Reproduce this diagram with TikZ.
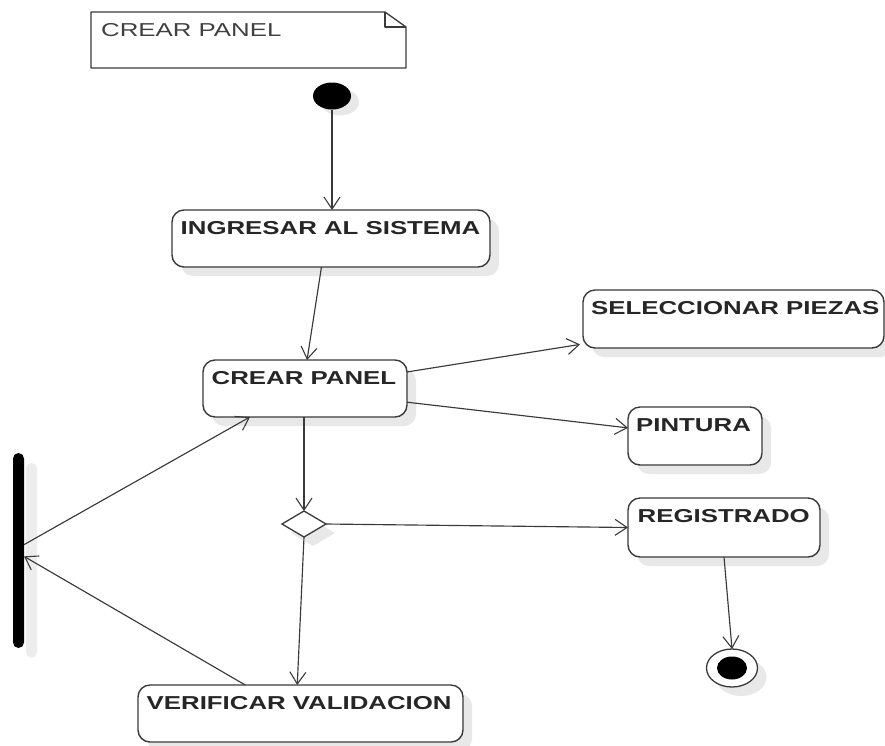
\documentclass[tikz,border=0pt]{standalone}
\usepackage{fontspec}
\newfontfamily\lblfont[FakeStretch=1.38]{Liberation Sans}
\usetikzlibrary{arrows.meta,shapes.geometric,shadows,calc}
\definecolor{edge}{HTML}{3A3A3A}
\definecolor{shade}{HTML}{E8E8E8}

\begin{document}
\begin{tikzpicture}[x=1pt,y=-1pt,
  shd/.style={drop shadow={shadow xshift=9pt, shadow yshift=-9pt, opacity=1, fill=shade}},
  actbox/.style={draw=edge, line width=1.4pt, rounded corners=12pt, fill=white,
    inner sep=0pt, outer sep=0pt, anchor=north west, shd},
  lbl/.style={anchor=base west, inner sep=0pt,
    font=\lblfont\bfseries\fontsize{18.7}{22}\selectfont, text=black!85},
  notelbl/.style={anchor=base west, inner sep=0pt,
    font=\lblfont\fontsize{18.7}{22}\selectfont, text=black!75},
  flow/.style={draw=edge, line width=1.15pt,
    -{Straight Barb[length=12pt,width=16pt,line width=1.1pt]}},
]
\useasboundingbox (0,0) rectangle (885,745);

% note in the upper left corner
\node[inner sep=0pt, outer sep=0pt, minimum width=315pt, minimum height=56pt,
      anchor=north west] (note) at (91,12) {};
\draw[edge, line width=1.3pt, line join=round]
  (note.north west) -- ($(note.north east)+(-21,0)$) -- ($(note.north east)+(0,15)$)
  -- (note.south east) -- (note.south west) -- cycle;
\draw[edge, line width=1.1pt, line join=round]
  ($(note.north east)+(-21,0)$) -- ($(note.north east)+(-21,15)$) -- ($(note.north east)+(0,15)$);
\node[notelbl] (notetext) at ($(note.north west)+(10,24.5)$) {CREAR PANEL};

% start node
\node[ellipse, fill=black, minimum width=38pt, minimum height=27pt, inner sep=0pt,
      drop shadow={shadow xshift=8pt, shadow yshift=-6pt, opacity=1, fill=shade}]
      (init) at (332,96) {};

% activities
\node[actbox, minimum width=318pt, minimum height=57pt] (ingresar) at (172,210) {};
\node[lbl] (ingresartext) at ($(ingresar.north west)+(8.5,24)$) {INGRESAR AL SISTEMA};

\node[actbox, minimum width=204pt, minimum height=57pt] (crear) at (203,360) {};
\node[lbl] (creartext) at ($(crear.north west)+(8.5,24)$) {CREAR PANEL};

\node[actbox, minimum width=301pt, minimum height=58pt] (selec) at (583,290) {};
\node[lbl] (selectext) at ($(selec.north west)+(8,24)$) {SELECCIONAR PIEZAS};

\node[actbox, minimum width=134pt, minimum height=58pt] (pintura) at (628,407) {};
\node[lbl] (pinturatext) at ($(pintura.north west)+(8,24)$) {PINTURA};

\node[actbox, minimum width=192pt, minimum height=59pt] (reg) at (628,498) {};
\node[lbl] (regtext) at ($(reg.north west)+(9.5,24)$) {REGISTRADO};

\node[actbox, minimum width=325pt, minimum height=57pt] (verif) at (138,685) {};
\node[lbl] (veriftext) at ($(verif.north west)+(8.5,24)$) {VERIFICAR VALIDACION};

% decision
\node[diamond, draw=edge, line width=1.3pt, fill=white, minimum width=44pt,
      minimum height=26pt, inner sep=0pt, outer sep=0pt, shd] (dia) at (304,524) {};

% synchronisation bar
\node[fill=black, rounded corners=5.5pt, minimum width=11pt, minimum height=195pt,
      inner sep=0pt, outer sep=0pt,
      drop shadow={shadow xshift=13pt, shadow yshift=-10pt, opacity=1, fill=shade!80}]
      (fork) at (18.5,550.5) {};

% end node
\node[ellipse, draw=edge, line width=1.3pt, fill=white, minimum width=51pt,
      minimum height=38pt, inner sep=0pt, outer sep=0pt, shd] (final) at (732,668) {};
\node[ellipse, fill=black, minimum width=30pt, minimum height=23pt, inner sep=0pt]
      (finaldot) at (final.center) {};

% transitions
\draw[flow] (init.south) -- (init.south |- ingresar.north);
\draw[flow] ($(ingresar.south west)!0.47!(ingresar.south east)$)
         -- ($(crear.north west)!0.51!(crear.north east)$);
\draw[flow, shorten >=3pt] ($(crear.north east)!0.21!(crear.south east)$)
         -- ($(selec.north west)!0.93!(selec.south west)$);
\draw[flow] ($(crear.north east)!0.74!(crear.south east)$)
         -- ($(pintura.north west)!0.36!(pintura.south west)$);
\draw[flow] (dia.north |- crear.south) -- (dia.north);
\draw[flow] (dia.east) -- (reg.west);
\draw[flow] (dia.south) -- ($(verif.north west)!0.49!(verif.north east)$);
\draw[flow] ($(fork.north east)!0.47!(fork.south east)$)
         -- ($(crear.south west)!0.23!(crear.south east)$);
\draw[flow] ($(verif.north west)!0.33!(verif.north east)$)
         -- ($(fork.north east)!0.53!(fork.south east)$);
\draw[flow] (reg.south) -- (final.north);
\end{tikzpicture}
\end{document}
